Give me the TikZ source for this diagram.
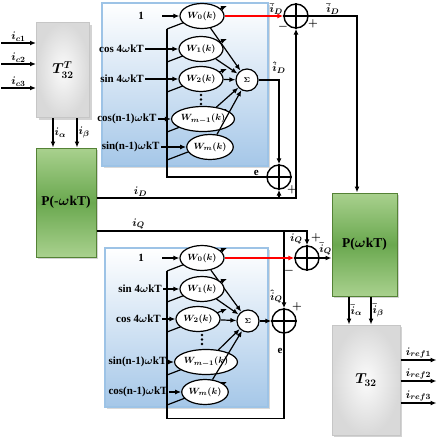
\documentclass[tikz,border=0pt]{standalone}
\usepackage{fontspec}
\setmainfont{Liberation Serif}
\usetikzlibrary{arrows.meta,positioning,shapes.geometric,shadows,calc}
\definecolor{blockgreen}{RGB}{106,168,79}
\definecolor{lightgreen}{RGB}{169,209,142}
\definecolor{edgegreen}{RGB}{84,130,53}
\definecolor{boxblue}{RGB}{165,199,232}
\definecolor{edgeblue}{RGB}{157,195,230}

\begin{document}
\begin{tikzpicture}[
    x=1pt,
    y=-1pt,
    >={Latex[length=6pt,width=5pt]},
    line width=1.2pt,
    every node/.style={font=\bfseries\boldmath\fontsize{11}{13}\selectfont,inner sep=1pt},
    grayblock/.style={draw=gray!45,line width=1pt,inner color=gray!3,outer color=gray!30,drop shadow={opacity=0.35},
      font=\boldmath\fontsize{14}{16}\selectfont},
    greenblock/.style={draw=edgegreen,line width=1pt,top color=lightgreen,bottom color=lightgreen,middle color=blockgreen,
      drop shadow={opacity=0.35},font=\bfseries\boldmath\fontsize{13.5}{15}\selectfont},
    nnbox/.style={draw=edgeblue,line width=1.3pt,top color=white,bottom color=boxblue,drop shadow={opacity=0.3}},
    weight/.style={ellipse,draw,fill=white,minimum height=25pt,inner sep=0pt,font=\boldmath\fontsize{9.5}{10}\selectfont},
    sigma/.style={circle,draw,fill=white,minimum size=22pt,inner sep=0pt,font=\boldmath\fontsize{7}{8}\selectfont},
    sumnode/.style={circle,draw,fill=white,minimum size=24pt,inner sep=0pt,line width=1.4pt},
    sign/.style={font=\boldmath\fontsize{11}{12}\selectfont}
]
  \useasboundingbox (0,0) rectangle (438,441);

  % adaline boxes
  \node[nnbox,minimum width=166pt,minimum height=163pt] (nnd) at (185,84.5) {};
  \node[nnbox,minimum width=163pt,minimum height=159pt] (nnq) at (186.5,327.5) {};

  % transformation blocks
  \node[grayblock,minimum width=53pt,minimum height=95pt] (tt) at (63,70) {$T_{32}^{T}$};
  \node[greenblock,minimum width=60pt,minimum height=109pt] (pn) at (66,202.5) {P(-$\omega$kT)};
  \node[greenblock,minimum width=65pt,minimum height=103pt] (pp) at (364.5,244.5) {P($\omega$kT)};
  \node[grayblock,minimum width=68pt,minimum height=110pt] (ts) at (366,380) {$T_{32}$};

  % summing points
  \node[sigma] (sgd) at (247,80) {$\Sigma$};
  \node[sigma] (sgq) at (248,321) {$\Sigma$};
  \node[sumnode] (s1) at (296,16) {};
  \node[sumnode] (s2) at (279,177) {};
  \node[sumnode] (s3) at (307,258) {};
  \node[sumnode] (s4) at (284,321) {};
  \foreach \s in {s1,s2,s3,s4}
    \draw[line width=1.4pt] (\s.north) -- (\s.south) (\s.west) -- (\s.east);

  \coordinate (ed) at (167,29);
  \coordinate (eq) at (167,271);

  % weights, d axis
  \foreach \n/\x/\y/\w/\g/\sh/\lab/\txt in {
      0/202/16/44/34/17/{W_0(k)}/{1},
      1/201/49/44/33/0/{W_1(k)}/{cos 4$\omega$kT},
      2/201/79/44/33/0/{W_2(k)}/{sin 4$\omega$kT},
      3/203/119/52/13/0/{W_{m-1}(k)}/{cos(n-1)$\omega$kT},
      4/210/147/46/25/0/{W_m(k)}/{sin(n-1)$\omega$kT}}
  {
    \draw[->] ($(ed |- 0,\y)+(0,13)$) -- ++(60,-23);
    \node[weight,minimum width=\w pt] (wd\n) at (\x,\y) {$\lab$};
    \node[left=\g pt of wd\n] (ind\n) {\txt};
    \draw[->,shorten <=\sh pt] (ind\n) -- (wd\n);
    \draw[->] (wd\n) -- (sgd);
  }
  \foreach \k in {0,1,2}
    \fill (201,95+\k*4.5) circle (1.3);

  % weights, q axis
  \foreach \n/\x/\y/\w/\g/\sh/\lab/\txt in {
      0/202/258/44/34/17/{W_0(k)}/{1},
      1/202/289/44/16/0/{W_1(k)}/{sin 4$\omega$kT},
      2/198/319/44/13/0/{W_2(k)}/{cos 4$\omega$kT},
      3/206/362/58/6/0/{W_{m-1}(k)}/{sin(n-1)$\omega$kT},
      4/205/392/44/12/0/{W_m(k)}/{cos(n-1)$\omega$kT}}
  {
    \draw[->] ($(eq |- 0,\y)+(0,13)$) -- ++(60,-23);
    \node[weight,minimum width=\w pt] (wq\n) at (\x,\y) {$\lab$};
    \node[left=\g pt of wq\n] (inq\n) {\txt};
    \draw[->,shorten <=\sh pt] (inq\n) -- (wq\n);
    \draw[->] (wq\n) -- (sgq);
  }
  \foreach \k in {0,1,2}
    \fill (202,335+\k*4.5) circle (1.3);

  % abc -> alpha beta -> dq
  \foreach \n/\dy in {1/-27,2/-6,3/18}
    \draw[<-] ($(tt.west)+(0,\dy)$) -- ++(-35,0) node[midway,above] {$i_{c\n}$};
  \draw[->] ([xshift=-10pt]tt.south) -- node[right] {$i_\alpha$} ([xshift=-13pt]pn.north);
  \draw[->] ([xshift=14pt]tt.south) -- node[right] {$i_\beta$} ([xshift=11pt]pn.north);

  % d channel
  \coordinate (id) at ([yshift=4.5pt]pn.east);
  \draw[->] (id) -- node[pos=0.22,above] {$i_D$} (id -| s1) -- (s1);
  \draw[->] (id -| s2) -- (s2);
  \draw[->,red] (wd0) -- node[pos=0.88,above,black] {$\bar{i}_D$} (s1);
  \draw[->] (s1) -| node[pos=0.25,above] {$\bar{i}_D$} ([xshift=-7.5pt]pp.north);
  \draw[->] (sgd) -| node[pos=0.5,above=5pt] {$\hat{i}_D$} (s2);
  \draw (s2) -- node[pos=0.1,above] {e} (s2 -| ed) -- (ed);
  \node[sign] (m1) at ($(s1)+(-13,11)$) {$-$};
  \node[sign] (p1) at ($(s1)+(17,8)$) {$+$};
  \node[sign] (p2) at ($(s2)+(13,13)$) {$+$};

  % q channel
  \coordinate (iq) at ([yshift=-28.5pt]pn.east);
  \draw[->] (iq) -- node[pos=0.2,above] {$i_Q$} (iq -| s3) -- node[left=3pt] {$\bar{i}_Q$} (s3);
  \draw[->] (iq -| s4) -- node[pos=0.85,left] {$\hat{i}_Q$} (s4);
  \draw[->,red] (wq0) -- (s3);
  \draw[->] (s3) -- node[above=1pt] {$\bar{i}_Q$} (s3 -| pp.west);
  \draw[->] (sgq) -- (s4);
  \draw (s4.south) -- node[pos=0.2,left] {e} ++(0,85) -| (eq);
  \node[sign] (p3) at ($(s3)+(9,-20)$) {$+$};
  \node[sign] (m3) at ($(s3)+(-18,13)$) {$-$};
  \node[sign] (p4) at ($(s4)+(13,-14)$) {$+$};

  % dq -> alpha beta -> references
  \draw[->] ([xshift=-15.5pt]pp.south) -- node[right] {$\bar{i}_\alpha$} ([xshift=-17pt]ts.north);
  \draw[->] ([xshift=6.5pt]pp.south) -- node[right] {$\bar{i}_\beta$} ([xshift=5pt]ts.north);
  \foreach \n/\dy in {1/-20,2/1,3/23}
    \draw[->] ($(ts.east)+(0,\dy)$) -- ++(36,0) node[midway,above] {$i_{ref\n}$};
\end{tikzpicture}
\end{document}
